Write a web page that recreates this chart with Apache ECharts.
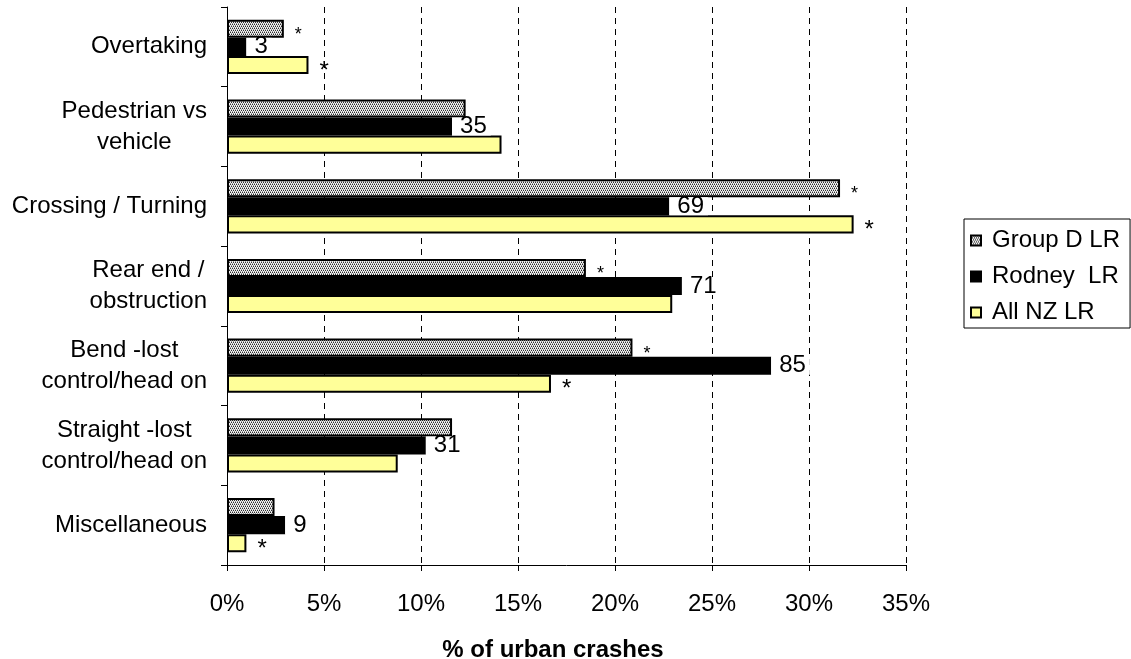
<!DOCTYPE html>
<html>
<head>
<meta charset="utf-8">
<script src="https://cdn.jsdelivr.net/npm/echarts@6/dist/echarts.min.js"></script>
<style>
html,body{margin:0;padding:0;background:#fff;}
#chart{width:1131px;height:659px;}
</style>
</head>
<body>
<div id="chart"></div>
<script>
// ---- data ----
const categories = ['Overtaking', 'Pedestrian vs\nvehicle', 'Crossing / Turning', 'Rear end /\nobstruction', 'Bend -lost\ncontrol/head on', 'Straight -lost\ncontrol/head on', 'Miscellaneous'];
const seriesNames = ['Group D LR', 'Rodney  LR', 'All NZ LR'];
const groupD = [2.93, 12.3, 31.6, 18.5, 20.9, 11.6, 2.45];
const rodney = [1.0, 11.6, 22.8, 23.45, 28.05, 10.25, 3.0];
const allNZ = [4.2, 14.15, 32.3, 22.95, 16.7, 8.8, 1.0];
const rodneyCounts = [3, 35, 69, 71, 85, 31, 9];
const groupDStar = [true, false, true, true, true, false, false];
const allNZStar = [true, false, true, false, true, false, true];
const xTicks = { min: 0, max: 35, interval: 5 };

const FONT = "'Liberation Sans', Arial, sans-serif";

// dotted fill pattern for Group D
const pat = document.createElement('canvas');
pat.width = 4; pat.height = 4;
const pc = pat.getContext('2d');
pc.fillStyle = '#f2f2f2'; pc.fillRect(0, 0, 4, 4);
pc.fillStyle = '#2e2e2e';
[[0,0],[2,0],[1,2],[3,2]].forEach(p => pc.fillRect(p[0], p[1], 1, 1));
pc.fillStyle = '#9a9a9a';
[[1,1],[3,1],[0,3],[2,3]].forEach(p => pc.fillRect(p[0], p[1], 1, 1));

const chart = echarts.init(document.getElementById('chart'), null, { renderer: 'canvas' });

const starLabel = (flags, size) => ({
  show: true,
  position: 'right',
  distance: 11,
  offset: [0, 6],
  fontSize: size,
  fontFamily: FONT,
  color: '#000',
  formatter: p => flags[p.dataIndex] ? '*' : ''
});

chart.setOption({
  animation: false,
  backgroundColor: '#fff',
  textStyle: { fontFamily: FONT, color: '#000' },
  grid: { left: 227, right: 225, top: 7, bottom: 94, containLabel: false, outerBoundsMode: 'none' },
  legend: {
    orient: 'vertical',
    left: 964,
    top: 219,
    padding: [9, 10, 3, 6],
    borderColor: '#000',
    borderWidth: 1,
    itemWidth: 10,
    itemHeight: 10,
    itemGap: 11,
    icon: 'rect',
    textStyle: { fontSize: 24, fontFamily: FONT, color: '#000', padding: [0, 0, 0, 6], lineHeight: 25 },
    data: seriesNames
  },
  xAxis: {
    type: 'value',
    min: xTicks.min, max: xTicks.max, interval: xTicks.interval,
    name: '% of urban crashes',
    nameLocation: 'middle',
    nameGap: 73,
    nameTextStyle: { fontSize: 24, fontWeight: 'bold', fontFamily: FONT, color: '#000', padding: [0, 27, 0, 0] },
    axisLine: { show: true, lineStyle: { color: '#000', width: 1 } },
    axisTick: { show: true, length: 6, lineStyle: { color: '#000' } },
    axisLabel: { fontSize: 24, fontFamily: FONT, color: '#000', margin: 27, formatter: '{value}%' },
    splitLine: { show: true, lineStyle: { color: '#000', type: [6, 5], width: 1 } }
  },
  yAxis: {
    type: 'category',
    inverse: true,
    data: categories,
    axisLine: { show: true, lineStyle: { color: '#000', width: 1 } },
    axisTick: { show: true, length: 6, lineStyle: { color: '#000' } },
    axisLabel: {
      margin: 20,
      formatter: v => v.split('\n').map(s => '{c|' + s + '}').join('\n'),
      rich: { c: { align: 'center', fontSize: 24, lineHeight: 31, fontFamily: FONT, color: '#000' } }
    },
    splitLine: { show: false }
  },
  series: [
    {
      name: seriesNames[0], type: 'bar', data: groupD,
      barGap: '0%', barCategoryGap: '32%',
      itemStyle: { color: { image: pat, repeat: 'repeat' }, borderColor: '#000', borderWidth: 2 },
      label: starLabel(groupDStar, 18)
    },
    {
      name: seriesNames[1], type: 'bar', data: rodney,
      barGap: '0%', barCategoryGap: '32%',
      itemStyle: { color: '#000', borderColor: '#000', borderWidth: 2 },
      label: {
        show: true, position: 'right', distance: 0,
        fontSize: 24, fontFamily: FONT, color: '#000',
        backgroundColor: '#fff', lineHeight: 18, padding: [0, 4, 0, 8],
        formatter: p => String(rodneyCounts[p.dataIndex])
      }
    },
    {
      name: seriesNames[2], type: 'bar', data: allNZ,
      barGap: '0%', barCategoryGap: '32%',
      itemStyle: { color: '#FFFF99', borderColor: '#000', borderWidth: 2 },
      label: starLabel(allNZStar, 24)
    }
  ]
});
</script>
</body>
</html>
